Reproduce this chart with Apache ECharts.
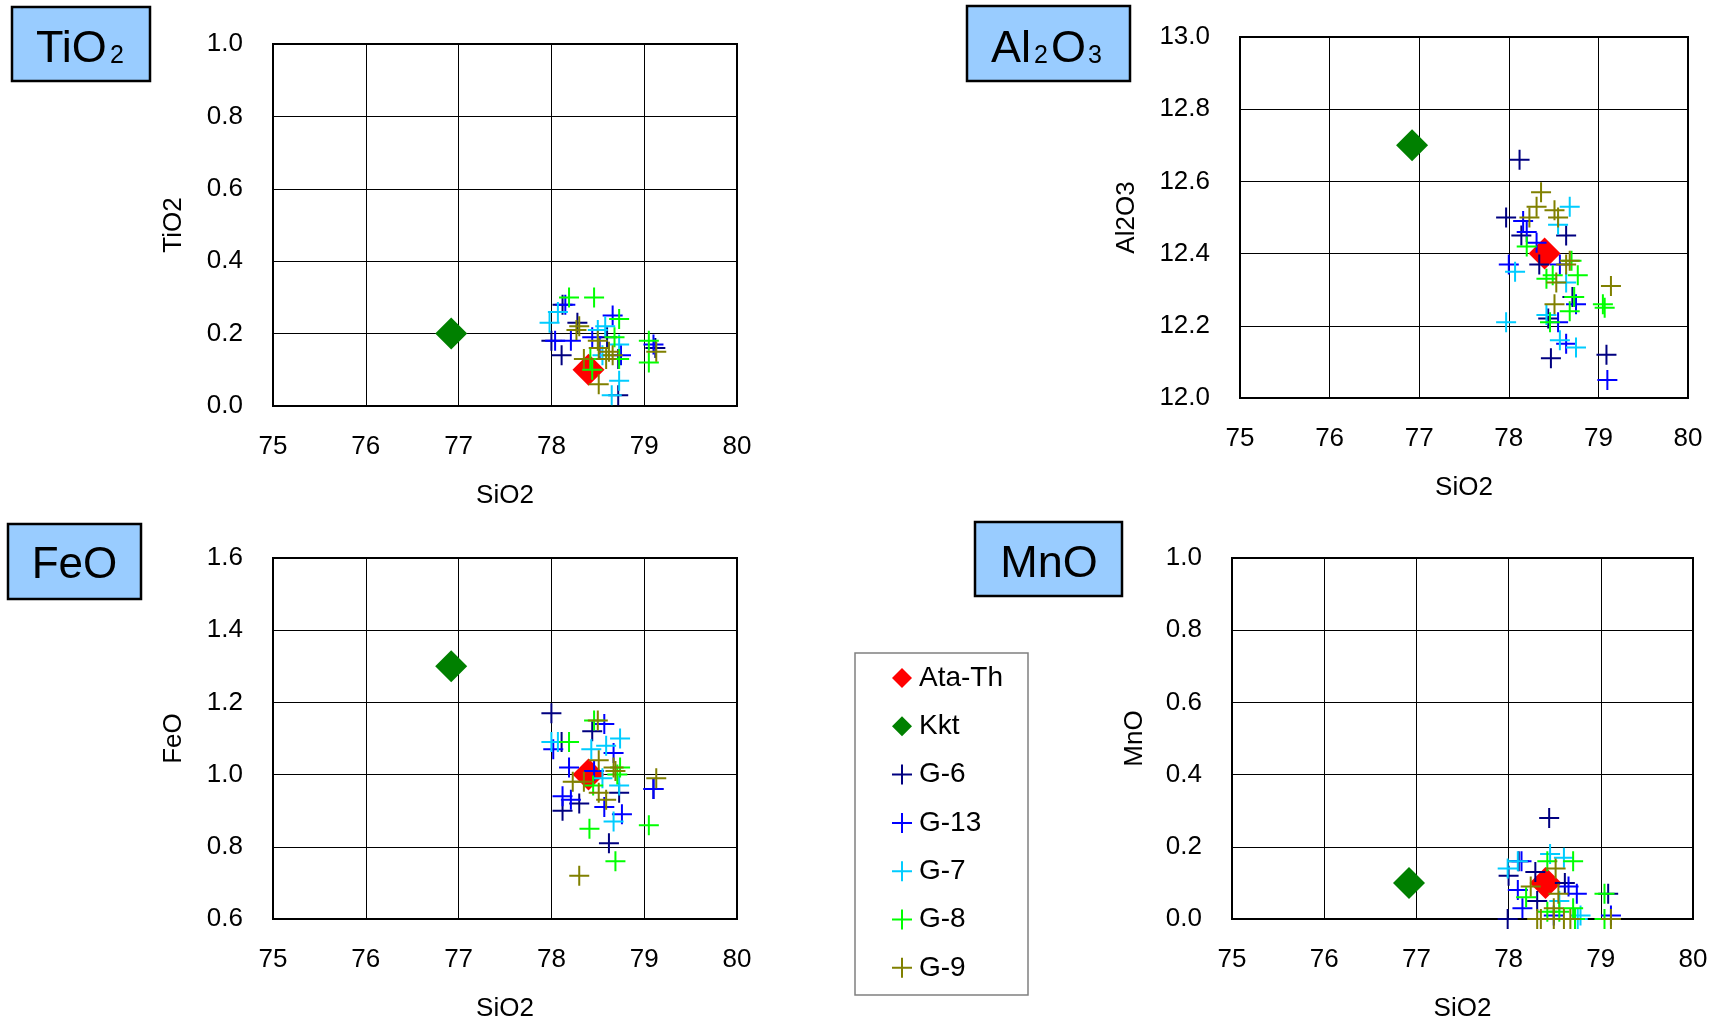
<!DOCTYPE html>
<html>
<head>
<meta charset="utf-8">
<title>SiO2 variation diagrams</title>
<script src="https://cdn.jsdelivr.net/npm/echarts@6/dist/echarts.min.js"></script>
<style>
  html, body { margin: 0; padding: 0; background: #fff; }
  #chart { width: 1713px; height: 1024px; }
</style>
</head>
<body>
<div id="chart"></div>
<script>
// ---- Tick ranges ----
const sio2Range = [75, 80];
const tio2Range = [0.0, 1.0];
const al2o3Range = [12.0, 13.0];
const feoRange = [0.6, 1.6];
const mnoRange = [0.0, 1.0];

// ---- Series names ----
const seriesNames = ['Ata-Th', 'Kkt', 'G-6', 'G-13', 'G-7', 'G-8', 'G-9'];

// ---- TiO2 vs SiO2 ----
const tio2AtaTh = [[78.40, 0.10]];
const tio2Kkt = [[76.92, 0.20]];
const tio2G6 = [[78.12, 0.28], [78.28, 0.23], [78.00, 0.18], [78.11, 0.14], [78.60, 0.19], [78.72, 0.03], [79.12, 0.16], [78.72, 0.13]];
const tio2G13 = [[78.15, 0.28], [78.04, 0.18], [78.21, 0.18], [78.44, 0.19], [78.66, 0.25], [79.10, 0.17], [78.75, 0.14], [78.52, 0.16]];
const tio2G7 = [[78.07, 0.26], [77.98, 0.23], [78.50, 0.21], [78.58, 0.22], [78.73, 0.17], [78.73, 0.07], [78.65, 0.03], [78.55, 0.14]];
const tio2G8 = [[78.19, 0.30], [78.46, 0.30], [78.73, 0.24], [78.68, 0.19], [79.05, 0.18], [79.05, 0.12], [78.44, 0.10], [78.73, 0.13], [78.42, 0.13]];
const tio2G9 = [[78.27, 0.21], [78.30, 0.22], [78.50, 0.18], [78.51, 0.16], [78.62, 0.15], [78.66, 0.14], [78.59, 0.13], [78.35, 0.13], [78.51, 0.06], [79.13, 0.15]];

// ---- Al2O3 vs SiO2 ----
const al2o3AtaTh = [[78.40, 12.40]];
const al2o3Kkt = [[76.92, 12.70]];
const al2o3G6 = [[78.12, 12.66], [77.97, 12.50], [78.14, 12.45], [78.64, 12.45], [78.34, 12.37], [78.71, 12.28], [78.44, 12.22], [78.47, 12.11], [79.09, 12.12]];
const al2o3G13 = [[78.16, 12.49], [78.20, 12.46], [78.31, 12.43], [78.00, 12.37], [78.57, 12.37], [78.75, 12.26], [78.55, 12.21], [78.64, 12.15], [79.10, 12.05]];
const al2o3G7 = [[78.68, 12.53], [78.55, 12.48], [78.07, 12.35], [78.64, 12.32], [78.42, 12.23], [77.97, 12.21], [78.57, 12.16], [78.75, 12.14]];
const al2o3G8 = [[78.20, 12.42], [78.70, 12.38], [78.77, 12.34], [78.42, 12.33], [78.49, 12.34], [78.73, 12.28], [79.05, 12.26], [79.07, 12.25], [78.68, 12.24], [78.46, 12.21]];
const al2o3G9 = [[78.36, 12.57], [78.31, 12.53], [78.51, 12.52], [78.55, 12.50], [78.23, 12.50], [78.64, 12.37], [78.68, 12.38], [78.53, 12.32], [79.14, 12.31], [78.51, 12.26]];

// ---- FeO vs SiO2 ----
const feoAtaTh = [[78.40, 1.00]];
const feoKkt = [[76.92, 1.30]];
const feoG6 = [[78.00, 1.17], [78.44, 1.12], [78.11, 1.09], [79.10, 0.96], [78.73, 0.95], [78.30, 0.92], [78.12, 0.90], [78.62, 0.81]];
const feoG13 = [[78.57, 1.14], [78.02, 1.07], [78.67, 1.06], [78.19, 1.02], [78.46, 1.01], [79.10, 0.96], [78.12, 0.94], [78.21, 0.93], [78.57, 0.91], [78.76, 0.89]];
const feoG7 = [[78.74, 1.10], [78.00, 1.09], [78.07, 1.09], [78.43, 1.07], [78.59, 1.08], [78.73, 0.97], [78.67, 0.87], [78.55, 0.99]];
const feoG8 = [[78.46, 1.15], [78.19, 1.09], [78.74, 1.02], [78.71, 1.00], [79.05, 0.86], [78.41, 0.85], [78.69, 0.76], [78.45, 0.97]];
const feoG9 = [[78.50, 1.15], [78.51, 1.04], [78.67, 1.02], [78.69, 1.01], [78.35, 0.98], [78.23, 0.98], [79.13, 0.99], [78.51, 0.95], [78.59, 0.93], [78.30, 0.72]];

// ---- MnO vs SiO2 ----
const mnoAtaTh = [[78.40, 0.10]];
const mnoKkt = [[76.92, 0.10]];
const mnoG6 = [[78.44, 0.28], [78.11, 0.16], [78.00, 0.12], [78.29, 0.13], [78.61, 0.10], [79.08, 0.07], [78.31, 0.05], [77.99, 0.00]];
const mnoG13 = [[78.14, 0.16], [78.10, 0.08], [78.65, 0.09], [78.74, 0.07], [78.15, 0.03], [79.11, 0.01], [78.49, 0.01]];
const mnoG7 = [[78.45, 0.18], [78.60, 0.17], [78.10, 0.16], [77.99, 0.14], [78.78, 0.01], [78.55, 0.05], [78.75, 0.00]];
const mnoG8 = [[78.42, 0.16], [78.70, 0.16], [79.04, 0.07], [78.19, 0.06], [78.70, 0.03], [78.42, 0.02], [79.04, 0.00], [78.72, 0.00], [78.55, 0.02]];
const mnoG9 = [[78.51, 0.14], [78.24, 0.09], [78.54, 0.07], [78.49, 0.03], [78.31, 0.00], [78.35, 0.00], [78.49, 0.00], [78.60, 0.00], [78.67, 0.00], [79.11, 0.00]];

// ---- Drawing setup ----
const FONT = '"Liberation Sans", Arial, sans-serif';
const PLUS = 'path://M9,0H11V9H20V11H11V20H9V11H0V9H9Z';

const markerStyles = [
  { symbol: 'diamond', size: [32, 32], color: '#FF0000' },
  { symbol: 'diamond', size: [32, 32], color: '#008000' },
  { symbol: PLUS, size: 20, color: '#000080' },
  { symbol: PLUS, size: 20, color: '#0000FF' },
  { symbol: PLUS, size: 20, color: '#00CCFF' },
  { symbol: PLUS, size: 20, color: '#00FF00' },
  { symbol: PLUS, size: 20, color: '#808000' }
];

const panels = [
  { yName: 'TiO2', range: tio2Range, nameGap: 86,
    rect: { left: 273, top: 44, width: 464, height: 362 },
    data: [tio2AtaTh, tio2Kkt, tio2G6, tio2G13, tio2G7, tio2G8, tio2G9] },
  { yName: 'Al2O3', range: al2o3Range, nameGap: 100,
    rect: { left: 1240, top: 37, width: 448, height: 361 },
    data: [al2o3AtaTh, al2o3Kkt, al2o3G6, al2o3G13, al2o3G7, al2o3G8, al2o3G9] },
  { yName: 'FeO', range: feoRange, nameGap: 86,
    rect: { left: 273, top: 558, width: 464, height: 361 },
    data: [feoAtaTh, feoKkt, feoG6, feoG13, feoG7, feoG8, feoG9] },
  { yName: 'MnO', range: mnoRange, nameGap: 84,
    rect: { left: 1232, top: 558, width: 461, height: 361 },
    data: [mnoAtaTh, mnoKkt, mnoG6, mnoG13, mnoG7, mnoG8, mnoG9] }
];

const labelStyle = { color: '#000', fontSize: 26, fontFamily: FONT };

const grids = panels.map(p => Object.assign({
  show: true, borderColor: '#000', borderWidth: 2, backgroundColor: 'transparent'
}, p.rect));

const xAxes = panels.map((p, i) => ({
  type: 'value', gridIndex: i,
  min: sio2Range[0], max: sio2Range[1], interval: 1,
  name: 'SiO2', nameLocation: 'middle', nameGap: 77,
  nameTextStyle: labelStyle,
  axisLine: { show: false },
  axisTick: { show: true, inside: true, length: 8, lineStyle: { color: '#000', width: 1 } },
  axisLabel: Object.assign({ margin: 28 }, labelStyle),
  splitLine: { show: true, lineStyle: { color: '#000', width: 1 } }
}));

const yAxes = panels.map((p, i) => ({
  type: 'value', gridIndex: i,
  min: p.range[0], max: p.range[1], interval: 0.2,
  name: p.yName, nameLocation: 'middle', nameGap: p.nameGap, nameRotate: 90,
  nameTextStyle: labelStyle,
  axisLine: { show: false },
  axisTick: { show: true, inside: true, length: 8, lineStyle: { color: '#000', width: 1 } },
  axisLabel: Object.assign({ margin: 30, formatter: v => v.toFixed(1) }, labelStyle),
  splitLine: { show: true, lineStyle: { color: '#000', width: 1 } }
}));

const series = [];
panels.forEach((p, i) => {
  p.data.forEach((pts, k) => {
    const m = markerStyles[k];
    series.push({
      type: 'scatter', name: seriesNames[k],
      xAxisIndex: i, yAxisIndex: i,
      data: pts,
      symbol: m.symbol, symbolSize: m.size,
      itemStyle: { color: m.color, opacity: 1 },
      clip: false,
      z: 2 + k,
      emphasis: { disabled: true }
    });
  });
});

// Title boxes above each panel (chemical formula with small digits)
function titleBox(box, parts) {
  const els = [{
    type: 'rect', shape: box,
    style: { fill: '#99CCFF', stroke: '#000', lineWidth: 2.5 }, z: 10
  }];
  parts.forEach(pt => {
    els.push({
      type: 'text', x: pt.x, y: pt.y, z: 11,
      style: { text: pt.t, fill: '#000', font: pt.s + 'px ' + FONT,
               textAlign: pt.align || 'left', textVerticalAlign: 'bottom', verticalAlign: 'bottom' }
    });
  });
  return els;
}

const graphics = [].concat(
  titleBox({ x: 12, y: 7, width: 138, height: 74 }, [
    { t: 'TiO', x: 36, y: 72.5, s: 45 },
    { t: '2', x: 110, y: 68.5, s: 25 }
  ]),
  titleBox({ x: 967, y: 6, width: 163, height: 75 }, [
    { t: 'Al', x: 991, y: 72.5, s: 45 },
    { t: '2', x: 1034, y: 68.5, s: 25 },
    { t: 'O', x: 1051, y: 72.5, s: 45 },
    { t: '3', x: 1088, y: 68.5, s: 25 }
  ]),
  titleBox({ x: 8, y: 524, width: 133, height: 75 }, [
    { t: 'FeO', x: 74.5, y: 588, s: 44, align: 'center' }
  ]),
  titleBox({ x: 975, y: 522, width: 147, height: 74 }, [
    { t: 'MnO', x: 1049, y: 587.5, s: 45, align: 'center' }
  ]),
  [{
    type: 'rect', shape: { x: 855, y: 653, width: 173, height: 342 },
    style: { fill: '#fff', stroke: '#808080', lineWidth: 1.5 }, z: 0
  }]
);

const chart = echarts.init(document.getElementById('chart'), null, { renderer: 'canvas' });
chart.setOption({
  backgroundColor: '#fff',
  animation: false,
  textStyle: { fontFamily: FONT },
  grid: grids,
  xAxis: xAxes,
  yAxis: yAxes,
  legend: {
    data: seriesNames,
    orient: 'vertical',
    left: 892, top: 664,
    padding: 0,
    itemWidth: 20, itemHeight: 20, itemGap: 20.3,
    selectedMode: false,
    textStyle: { color: '#000', fontSize: 28, fontFamily: FONT, padding: [0, 0, 0, 2] }
  },
  graphic: graphics,
  series: series
});
</script>
</body>
</html>
